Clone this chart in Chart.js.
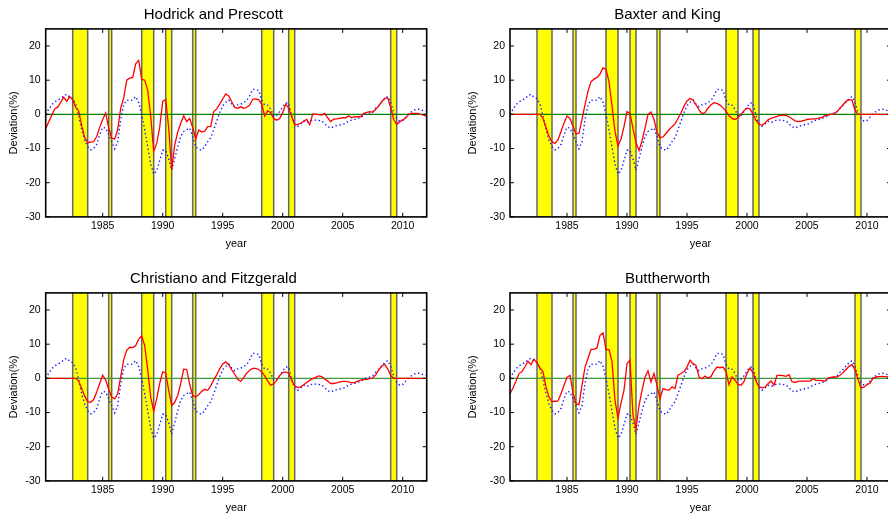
<!DOCTYPE html>
<html>
<head>
<meta charset="utf-8">
<title>Cycle filters</title>
<script src="https://cdn.jsdelivr.net/npm/chart.js@4.4.1/dist/chart.umd.min.js"></script>
<style>
	html, body { margin: 0; padding: 0; background: #fff; }
	body { position: relative; width: 888px; height: 518px; overflow: hidden; }
	canvas { position: absolute; }
</style>
</head>
<body>
<canvas id="hpChart" width="472" height="259" style="left:0px;top:0px"></canvas>
<canvas id="bkChart" width="513" height="259" style="left:444px;top:0px"></canvas>
<canvas id="cfChart" width="472" height="259" style="left:0px;top:264px"></canvas>
<canvas id="bwChart" width="513" height="259" style="left:444px;top:264px"></canvas>
<script>
// quarterly observations, 1980Q2 .. 2012Q1
var firstQuarter = 1980.25;
var quarters = [];
for (var q = 0; q < 128; q++) quarters.push(firstQuarter + q * 0.25);

var xMin = 1980.25, xMax = 2012;
var yearTicks = [1985, 1990, 1995, 2000, 2005, 2010];
var devTicks = [-30, -20, -10, 0, 10, 20];
var yMin = -30, yMax = 25;

// recession periods (shaded)
var recessionStart = [1982.5, 1985.5, 1988.25, 1990.25, 1992.5, 1998.25, 2000.5, 2009.0];
var recessionEnd = [1983.75, 1985.75, 1989.25, 1990.75, 1992.75, 1999.25, 2001.0, 2009.5];

// reference cycle (blue dotted, same in every panel)
var refCycle = [
	0.0, 1.5, 2.8, 3.6, 4.2, 4.6, 5.4, 5.9, 5.0, 4.6,
	3.0, -0.5, -4.5, -7.5, -9.5, -10.4, -10.0, -8.8, -6.0, -3.8,
	-4.0, -6.0, -8.0, -10.1, -8.0, -1.5, 2.8, 4.2, 4.0, 4.2,
	5.2, 3.5, 0.0, -4.5, -9.5, -14.5, -17.5, -16.5, -13.5, -10.5,
	-10.5, -13.0, -16.3, -13.0, -9.5, -6.5, -5.0, -4.5, -4.0, -6.5,
	-9.5, -10.2, -10.5, -9.5, -8.0, -6.8, -4.5, -2.0, 0.5, 2.5,
	3.5, 4.2, 3.0, 2.2, 2.8, 3.0, 3.4, 4.0, 5.5, 7.3,
	7.3, 7.0, 4.2, 2.7, 2.7, 1.5, -0.5, -0.3, 0.8, 2.2,
	3.3, 3.3, -0.5, -2.8, -3.5, -2.8, -2.0, -2.4, -2.0, -1.6,
	-1.7, -1.8, -1.9, -2.8, -3.6, -4.0, -3.6, -3.3, -3.1, -2.9,
	-2.6, -2.0, -1.7, -1.5, -1.2, -0.9, -0.3, 0.2, 0.4, 0.8,
	1.8, 2.6, 3.6, 4.6, 5.2, 3.5, 0.6, -1.2, -2.0, -1.8,
	-0.8, 0.2, 0.8, 1.3, 1.5, 1.4, 1.0, 0.8
];

var hpCycle = [
	-4.1, -2.2, -0.3, 1.6, 2.1, 3.5, 5.0, 3.8, 5.2, 4.3,
	2.0, 1.0, -3.2, -6.8, -8.3, -8.1, -8.0, -6.5, -3.8, -1.5,
	0.4, -4.0, -7.0, -7.2, -4.5, 1.8, 4.8, 10.0, 10.6, 10.8,
	14.8, 15.8, 10.3, 10.0, 7.0, -0.5, -10.8, -8.5, -3.8, 3.8,
	4.4, -4.0, -16.2, -9.0, -5.2, -2.6, -0.4, -2.1, -1.2, -3.8,
	-7.2, -4.6, -5.1, -5.0, -3.6, -3.5, 0.8, 1.6, 3.0, 4.5,
	6.0, 5.4, 3.7, 2.0, 1.8, 2.2, 1.8, 2.0, 2.7, 4.4,
	4.5, 4.3, 3.0, -0.5, 1.1, 0.5, -1.2, -1.7, -1.2, 0.5,
	3.0, 1.8, -0.7, -3.1, -2.9, -2.6, -2.0, -1.5, -3.0, 0.1,
	0.0, -0.1, -0.2, 0.3, -1.0, -2.1, -1.4, -1.3, -1.2, -1.0,
	-1.0, -0.4, -1.0, -0.7, -0.7, -0.7, 0.3, 0.6, 0.8, 0.6,
	1.5, 2.4, 3.7, 4.7, 4.8, 2.0, -1.5, -2.9, -2.2, -1.6,
	-1.1, 0.0, 0.3, 0.3, 0.3, 0.0, -0.2, -0.7
];

var bkCycle = [
	0, 0, 0, 0, 0, 0, 0, 0, 0, 0,
	0, -1.2, -3.8, -6.5, -8.0, -8.5, -7.5, -5.0, -2.5, -0.5,
	-1.2, -3.5, -5.7, -5.5, -1.5, 2.8, 6.8, 9.5, 10.3, 10.8,
	11.8, 13.6, 13.2, 9.6, 2.5, -5.0, -9.2, -7.2, -3.6, 0.8,
	0.3, -4.2, -8.2, -10.6, -7.8, -4.0, 0.0, 0.7, -1.5, -5.3,
	-6.8, -6.6, -5.6, -4.5, -3.6, -2.8, -1.2, 0.4, 2.4, 3.9,
	4.6, 4.2, 2.8, 1.3, 0.2, 0.5, 1.8, 2.8, 3.4, 3.2,
	2.7, 1.9, 0.9, -0.4, -1.2, -1.5, -1.0, 0.0, 1.1, 1.8,
	1.6, 0.0, -1.8, -2.9, -3.2, -2.5, -1.6, -1.2, -0.9, -0.6,
	-0.3, -0.2, -0.3, -0.7, -1.3, -1.9, -2.1, -2.0, -1.8, -1.5,
	-1.4, -1.3, -1.3, -1.1, -0.9, -0.4, -0.2, 0.0, 0.1, 0.8,
	1.8, 2.8, 3.8, 4.3, 4.2, 1.2, 0, 0, 0, 0,
	0, 0, 0, 0, 0, 0, 0, 0
];

var cfCycle = [
	0, 0, 0, 0, 0, 0, 0, 0, 0, 0,
	0, -0.8, -3.0, -5.2, -6.8, -7.0, -6.2, -4.0, -1.5, 0.9,
	-0.5, -3.2, -5.5, -6.0, -4.5, 0.5, 5.5, 8.2, 9.1, 9.0,
	9.6, 11.5, 12.4, 9.6, 2.5, -5.5, -9.6, -6.0, -1.5, 1.9,
	1.6, -3.5, -8.0, -7.0, -5.0, -1.5, 2.7, 2.6, -1.8, -5.0,
	-5.4, -4.8, -3.8, -3.2, -3.5, -2.2, -0.5, 1.0, 2.8, 4.2,
	4.8, 4.0, 2.5, 1.2, -0.3, -0.9, 0.2, 1.5, 2.4, 2.9,
	2.9, 2.6, 1.9, 0.7, -0.8, -2.0, -1.6, -0.6, 0.8, 1.7,
	1.9, 1.5, -0.6, -2.2, -2.7, -2.5, -1.9, -1.2, -0.6, -0.1,
	0.3, 0.7, 0.5, -0.2, -0.8, -1.5, -1.5, -1.3, -1.0, -0.9,
	-0.9, -1.0, -1.3, -1.2, -0.8, -0.5, -0.4, -0.3, -0.1, 0.1,
	1.0, 2.5, 3.6, 4.1, 2.8, 0.8, 0, 0, 0, 0,
	0, 0, 0, 0, 0, 0, 0, 0
];

var bwCycle = [
	-4.5, -2.8, -0.8, 1.4, 2.0, 3.4, 5.0, 4.0, 5.6, 4.6,
	3.0, 1.9, -2.5, -5.5, -6.8, -6.7, -6.6, -4.5, -2.0, 0.3,
	0.9, -4.2, -7.4, -7.7, -2.0, 3.2, 5.8, 8.5, 8.5, 8.9,
	12.6, 13.3, 8.4, 8.4, 5.0, -6.5, -11.6, -7.2, -3.5, 4.3,
	5.3, -10.8, -14.7, -8.0, -3.5, 0.3, 2.2, -1.1, 1.4, -2.0,
	-6.0, -3.0, -3.3, -3.5, -2.5, -3.0, 0.9, 1.4, 2.0, 3.3,
	5.3, 4.3, 3.8, 0.4, -0.1, 0.7, 0.1, 0.5, 2.2, 3.3,
	3.1, 3.3, 2.0, -1.9, 0.4, -0.5, -1.8, -2.0, -1.0, 1.5,
	3.0, 1.6, -0.8, -2.4, -2.8, -2.6, -1.6, -0.8, -2.0, 0.9,
	0.9, 0.8, 0.6, 1.1, -1.0, -1.2, -0.9, -0.8, -0.8, -0.8,
	-0.8, -0.1, -0.6, -0.6, -0.7, -0.8, 0.1, 0.3, 0.4, 0.4,
	0.9, 1.6, 2.6, 3.5, 4.0, 2.5, -0.3, -2.8, -2.6, -1.8,
	-1.4, 0.0, 0.4, 0.5, 0.6, 0.5, 0.4, 0.3
];

Chart.defaults.font.family = '"Liberation Sans", Arial, Helvetica, sans-serif';
Chart.defaults.color = '#000';

// yellow recession bands behind the lines
var bandPlugin = {
	id: 'bands',
	beforeDatasetsDraw: function(chart) {
		var ctx = chart.ctx, a = chart.chartArea, xs = chart.scales.x;
		ctx.save();
		recessionStart.forEach(function(s, i) {
			var x0 = xs.getPixelForValue(s), x1 = xs.getPixelForValue(recessionEnd[i]);
			ctx.fillStyle = '#ffff00';
			ctx.fillRect(x0, a.top, x1 - x0, a.bottom - a.top);
			ctx.strokeStyle = '#666';
			ctx.lineWidth = 1.5;
			ctx.beginPath();
			ctx.moveTo(x0, a.top); ctx.lineTo(x0, a.bottom);
			ctx.moveTo(x1, a.top); ctx.lineTo(x1, a.bottom);
			ctx.stroke();
		});
		ctx.restore();
	}
};

// gnuplot-like box with inward (mirrored) ticks
var framePlugin = {
	id: 'frame',
	afterDraw: function(chart) {
		var ctx = chart.ctx, a = chart.chartArea;
		var xs = chart.scales.x, ys = chart.scales.y;
		ctx.save();
		ctx.strokeStyle = '#000';
		ctx.lineWidth = 1;
		ctx.beginPath();
		yearTicks.forEach(function(t) {
			var px = xs.getPixelForValue(t);
			ctx.moveTo(px, a.bottom); ctx.lineTo(px, a.bottom - 4);
			ctx.moveTo(px, a.top); ctx.lineTo(px, a.top + 4);
		});
		devTicks.forEach(function(t) {
			var py = ys.getPixelForValue(t);
			ctx.moveTo(a.left, py); ctx.lineTo(a.left + 4, py);
			ctx.moveTo(a.right, py); ctx.lineTo(a.right - 4, py);
		});
		ctx.stroke();
		ctx.lineWidth = 1.6;
		ctx.strokeRect(a.left, a.top, a.right - a.left, a.bottom - a.top);
		ctx.restore();
	}
};

var panels = [
	{ id: 'hpChart', title: 'Hodrick and Prescott', series: hpCycle, axisW: 45.7, padRight: 45.3, labelX: 13.5, zero: '#008000' },
	{ id: 'bkChart', title: 'Baxter and King', series: bkCycle, axisW: 66, padRight: 66, labelX: 29.3, zero: '#008000' },
	{ id: 'cfChart', title: 'Christiano and Fitzgerald', series: cfCycle, axisW: 45.7, padRight: 45.3, labelX: 13.5, zero: '#3c9c3c' },
	{ id: 'bwChart', title: 'Buttherworth', series: bwCycle, axisW: 66, padRight: 66, labelX: 29.3, zero: '#3c9c3c' }
];

function toPoints(values) {
	return quarters.map(function(q, i) { return { x: q, y: values[i] }; });
}

panels.forEach(function(p) {
	new Chart(p.id, {
		type: 'line',
		data: {
			datasets: [{
				label: 'filtered',
				data: toPoints(p.series),
				borderColor: '#ff0000',
				borderWidth: 1.3,
				pointRadius: 0,
				tension: 0
			}, {
				label: 'reference',
				data: toPoints(refCycle),
				borderColor: '#1a1aff',
				borderWidth: 1.4,
				borderDash: [1.4, 2.6],
				pointRadius: 0,
				tension: 0
			}, {
				label: 'zero',
				data: [{ x: xMin, y: 0 }, { x: xMax, y: 0 }],
				borderColor: p.zero,
				borderWidth: 1.3,
				pointRadius: 0
			}]
		},
		options: {
			responsive: false,
			animation: false,
			layout: { padding: { left: 0, right: p.padRight, top: 0, bottom: 0 } },
			plugins: {
				legend: { display: false },
				tooltip: { enabled: false },
				title: {
					display: true,
					text: p.title,
					font: { size: 15, weight: 'normal' },
					padding: { top: 5.5, bottom: 5.4 }
				}
			},
			scales: {
				x: {
					type: 'linear',
					min: xMin,
					max: xMax,
					afterBuildTicks: function(scale) {
						scale.ticks = yearTicks.map(function(v) { return { value: v }; });
					},
					afterFit: function(scale) { scale.height = 42.1; },
					grid: { display: false, drawTicks: false },
					border: { display: false },
					ticks: {
						autoSkip: false,
						maxRotation: 0,
						padding: 3.4,
						font: { size: 10.5 },
						callback: function(v) { return String(v); }
					},
					title: {
						display: true,
						text: 'year',
						font: { size: 11 },
						padding: { top: 0, bottom: 8.2 }
					}
				},
				y: {
					min: yMin,
					max: yMax,
					afterBuildTicks: function(scale) {
						scale.ticks = devTicks.map(function(v) { return { value: v }; });
					},
					afterFit: function(scale) { scale.width = p.axisW; },
					grid: { display: false, drawTicks: false },
					border: { display: false },
					ticks: {
						padding: 5,
						font: { size: 10.5 }
					},
					title: {
						display: true,
						text: 'Deviation(%)',
						font: { size: 11 },
						padding: { top: p.labelX - 6.6, bottom: 0 }
					}
				}
			}
		},
		plugins: [bandPlugin, framePlugin]
	});
});
</script>
</body>
</html>
